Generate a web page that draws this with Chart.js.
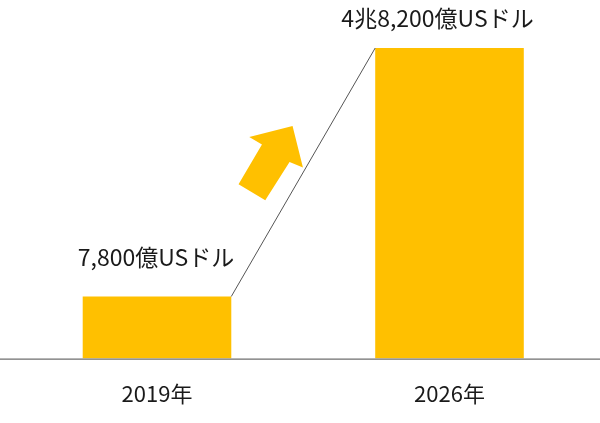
<!DOCTYPE html>
<html>
<head>
<meta charset="utf-8">
<script src="https://cdn.jsdelivr.net/npm/chart.js@4/dist/chart.umd.min.js"></script>
<style>
  html, body { margin: 0; padding: 0; background: #fff; }
  #wrap { width: 600px; height: 423px; }
</style>
</head>
<body>
<div id="wrap"><canvas id="c"></canvas></div>
<script>
const categories = ['2019年', '2026年'];
const values = [7800, 48200];            // 億USドル
const valueLabels = ['7,800億USドル', '4兆8,200億USドル'];

const FONT = '"Noto Sans CJK JP", "Noto Sans", sans-serif';
const GOLD = '#FFC000';

const decoPlugin = {
  id: 'deco',
  afterDatasetsDraw(chart) {
    const ctx = chart.ctx;
    const meta = chart.getDatasetMeta(0);
    const y = chart.scales.y;
    const baseY = y.getPixelForValue(y.min);
    const b1 = meta.data[0], b2 = meta.data[1];
    const w1 = b1.width / 2, w2 = b2.width / 2;

    ctx.save();
    // baseline across full width
    ctx.strokeStyle = '#6e6e6e';
    ctx.lineWidth = 1.2;
    ctx.beginPath();
    ctx.moveTo(0, baseY + 0.5);
    ctx.lineTo(chart.width, baseY + 0.5);
    ctx.stroke();

    // connector line between bar tops
    const p1 = { x: b1.x + w1, y: b1.y };
    const p2 = { x: b2.x - w2, y: b2.y };
    ctx.strokeStyle = '#555';
    ctx.lineWidth = 1;
    ctx.beginPath();
    ctx.moveTo(p1.x, p1.y);
    ctx.lineTo(p2.x, p2.y);
    ctx.stroke();

    // decorative arrow near midpoint of connector
    const mx = (p1.x + p2.x) / 2, my = (p1.y + p2.y) / 2;
    const shape = [[-10.7,-46.3],[-0.3,-4.7],[-13.7,-10.3],[-38,28],[-64.7,12],[-41.3,-27.7],[-54,-35.3]];
    ctx.fillStyle = GOLD;
    ctx.beginPath();
    shape.forEach(([dx, dy], i) => i ? ctx.lineTo(mx + dx, my + dy) : ctx.moveTo(mx + dx, my + dy));
    ctx.closePath();
    ctx.fill();

    // value labels above bars
    const offs = [{dx: -1, dy: 39}, {dx: -12, dy: 30}];
    ctx.fillStyle = '#1a1a1a';
    ctx.font = '23px ' + FONT;
    ctx.textAlign = 'center';
    ctx.textBaseline = 'middle';
    meta.data.forEach((bar, i) => {
      ctx.fillText(valueLabels[i], bar.x + offs[i].dx, bar.y - offs[i].dy);
    });
    ctx.restore();
  }
};

new Chart(document.getElementById('c'), {
  type: 'bar',
  data: {
    labels: categories,
    datasets: [{
      data: values,
      backgroundColor: GOLD,
      borderWidth: 0,
      base: -2300,
      barPercentage: 1,
      categoryPercentage: 0.508
    }]
  },
  options: {
    responsive: true,
    maintainAspectRatio: false,
    animation: false,
    layout: { padding: { top: 48, left: 10.75, right: 4.25, bottom: -6 } },
    plugins: { legend: { display: false }, tooltip: { enabled: false } },
    scales: {
      x: {
        grid: { display: false, drawTicks: false },
        border: { display: false },
        ticks: { color: '#1a1a1a', font: { family: FONT, size: 22 }, padding: 22 }
      },
      y: {
        display: false,
        min: -2300,
        max: 48200
      }
    }
  },
  plugins: [decoPlugin]
});
</script>
</body>
</html>
